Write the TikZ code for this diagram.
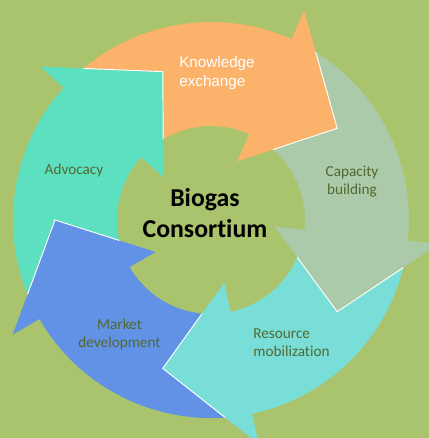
\documentclass[tikz,border=0pt]{standalone}
\usepackage{fontspec}
\setmainfont{Carlito}[Ligatures=NoCommon]
\newfontfamily\arialfont{Liberation Sans}

\definecolor{bg}{RGB}{169,196,108}
\definecolor{kx}{RGB}{251,178,107}
\definecolor{cb}{RGB}{170,202,170}
\definecolor{rm}{RGB}{122,222,216}
\definecolor{md}{RGB}{98,146,230}
\definecolor{ad}{RGB}{92,224,192}
\definecolor{t}{RGB}{82,104,48}

% one arrow of the cycle, #1 = angle of its head base
\newcommand{\cyclearrow}[1]{({#1+70}:94) arc[start angle={#1+70}, end angle=#1, radius=94]
    -- (#1:64) -- ({#1-30}:156) -- (#1:229) -- (#1:198)
    arc[start angle=#1, end angle={#1+70}, radius=198] -- cycle}
\newcommand{\headedge}[1]{(#1:229) -- ({#1-30}:156) -- (#1:64)}

\begin{document}
\begin{tikzpicture}[scale=0.03,
        lbl/.style={text=t, align=center, font=\fontsize{13}{15.7}\selectfont},
        edge/.style={draw=white, line width=0.8pt, line join=miter},
    ]

    \useasboundingbox (-211,-218) rectangle (218,220);
    \clip (-211,-218) rectangle (218,220);
    \fill[bg] (-211,-218) rectangle (218,220);

    \fill[ad] \cyclearrow{138};
    \fill[md] \cyclearrow{210};
    \fill[rm] \cyclearrow{-78};
    \fill[cb] \cyclearrow{-6};
    \fill[kx] \cyclearrow{66};
    % advocacy head lies on top of the orange tail
    \fill[ad] (138:229) -- (108:156) -- (138:64) -- cycle;

    \begin{scope}[even odd rule]
        \clip (0,0) circle (198) (0,0) circle (94);
        \draw[edge] \headedge{66};
        \draw[edge] \headedge{-6};
        \draw[edge] \headedge{-78};
        \draw[edge] \headedge{210};
        \draw[edge] \headedge{138};
    \end{scope}

    \node[lbl, text=white, align=left, font=\arialfont\fontsize{13}{16}\selectfont] (kx) at (6,147) {Knowledge\\exchange};
    \node[lbl] (cb) at (141,38.5) {Capacity\\building};
    \node[lbl, align=left] (rm) at (80.5,-122.5) {Resource\\mobilization};
    \node[lbl] (md) at (-91.5,-114.5) {Market\\development};
    \node[lbl] (ad) at (-137,50) {Advocacy};

    \node[align=center, font=\fontsize{22}{27}\selectfont\bfseries] (bc) at (-6,7) {Biogas\\Consortium};
\end{tikzpicture}
\end{document}
